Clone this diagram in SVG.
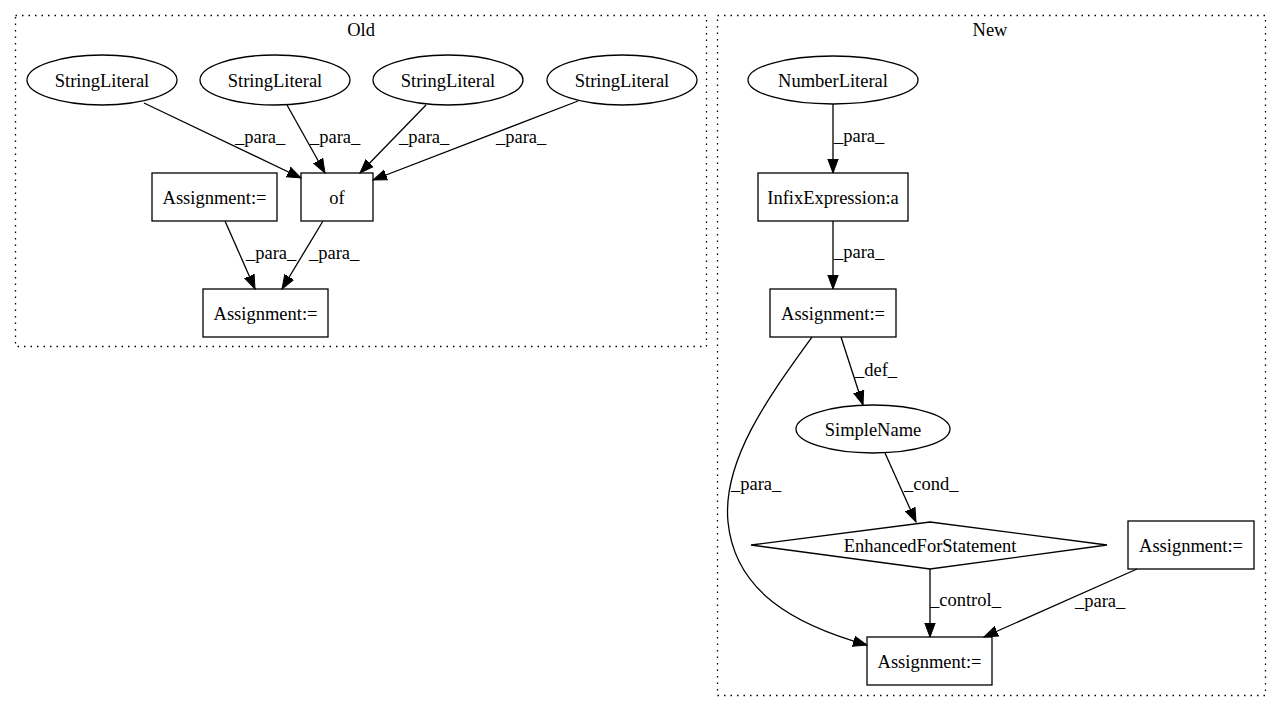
<svg xmlns="http://www.w3.org/2000/svg" width="1280" height="712" viewBox="0 0 1280 712">
<style>
text{font-family:"Liberation Serif","Times New Roman",serif;font-size:18.5px;fill:#000}
.n{text-anchor:middle}
.shape{fill:none;stroke:#000;stroke-width:1.3}
.cl{fill:none;stroke:#000;stroke-width:1.3;stroke-dasharray:1.5,5}
.e{fill:none;stroke:#000;stroke-width:1.3;marker-end:url(#arr)}
</style>
<defs>
<marker id="arr" markerUnits="userSpaceOnUse" markerWidth="16" markerHeight="13" refX="14" refY="6" orient="auto" viewBox="0 0 16 13">
<path d="M0,0.8 L14,6 L0,11.2 z" fill="#000" stroke="#000" stroke-width="1"/>
</marker>
</defs>
<rect width="1280" height="712" fill="#fff"/>
<g id="cluster_old">
<rect class="cl" x="15.5" y="15.5" width="691" height="331"/>
<text class="n" x="361" y="36">Old</text>
</g>
<g id="cluster_new">
<rect class="cl" x="717.5" y="15.5" width="548" height="680"/>
<text class="n" x="990" y="36">New</text>
</g>
<g id="connectors">
<line class="e" x1="144" y1="103" x2="301" y2="178"/>
<line class="e" x1="287" y1="105" x2="325" y2="173"/>
<line class="e" x1="426" y1="105" x2="360" y2="173"/>
<line class="e" x1="578" y1="101" x2="373" y2="180"/>
<line class="e" x1="225" y1="221" x2="255" y2="289"/>
<line class="e" x1="323" y1="221" x2="282" y2="289"/>
<line class="e" x1="833" y1="104" x2="833" y2="173"/>
<line class="e" x1="833" y1="221" x2="833" y2="289"/>
<line class="e" x1="841" y1="337" x2="863" y2="405"/>
<path class="e" d="M812,337 C770,395 722,460 728,522 C735,592 795,625 867,645"/>
<line class="e" x1="885" y1="453" x2="916" y2="522"/>
<line class="e" x1="930" y1="569" x2="930" y2="637"/>
<line class="e" x1="1137" y1="569" x2="984" y2="637"/>
<text x="235" y="143">_para_</text>
<text x="310" y="143">_para_</text>
<text x="399" y="143">_para_</text>
<text x="496" y="143">_para_</text>
<text x="246" y="259">_para_</text>
<text x="309" y="259">_para_</text>
<text x="834" y="142">_para_</text>
<text x="834" y="258">_para_</text>
<text x="855" y="376">_def_</text>
<text x="731" y="490">_para_</text>
<text x="904" y="490">_cond_</text>
<text x="930" y="606">_control_</text>
<text x="1075" y="607">_para_</text>
</g>
<g id="sl1"><ellipse class="shape" cx="102" cy="80" rx="75" ry="25"/><text class="n" x="102" y="86.5">StringLiteral</text></g>
<g id="sl2"><ellipse class="shape" cx="275" cy="80" rx="75" ry="25"/><text class="n" x="275" y="86.5">StringLiteral</text></g>
<g id="sl3"><ellipse class="shape" cx="448" cy="80" rx="75" ry="25"/><text class="n" x="448" y="86.5">StringLiteral</text></g>
<g id="sl4"><ellipse class="shape" cx="622" cy="80" rx="75" ry="25"/><text class="n" x="622" y="86.5">StringLiteral</text></g>
<g id="old_assign1"><rect class="shape" x="152" y="173" width="125" height="48"/><text class="n" x="214.5" y="203.5">Assignment:=</text></g>
<g id="old_of"><rect class="shape" x="301" y="173" width="72" height="48"/><text class="n" x="337" y="203.5">of</text></g>
<g id="old_assign2"><rect class="shape" x="203" y="289" width="125" height="48"/><text class="n" x="265.5" y="319.5">Assignment:=</text></g>
<g id="numlit"><ellipse class="shape" cx="833" cy="80" rx="85" ry="24"/><text class="n" x="833" y="86.5">NumberLiteral</text></g>
<g id="infix"><rect class="shape" x="758" y="173" width="150" height="48"/><text class="n" x="833" y="203.5">InfixExpression:a</text></g>
<g id="new_assign1"><rect class="shape" x="770" y="289" width="126" height="48"/><text class="n" x="833" y="319.5">Assignment:=</text></g>
<g id="simplename"><ellipse class="shape" cx="873" cy="429" rx="77" ry="24"/><text class="n" x="873" y="435.5">SimpleName</text></g>
<g id="enhfor"><polygon class="shape" points="751,545 930,522 1107,545 930,569"/><text class="n" x="930" y="551.5">EnhancedForStatement</text></g>
<g id="new_assign2"><rect class="shape" x="1128" y="521" width="126" height="48"/><text class="n" x="1191" y="551.5">Assignment:=</text></g>
<g id="new_assign3"><rect class="shape" x="867" y="637" width="125" height="48"/><text class="n" x="929.5" y="667.5">Assignment:=</text></g>
</svg>
